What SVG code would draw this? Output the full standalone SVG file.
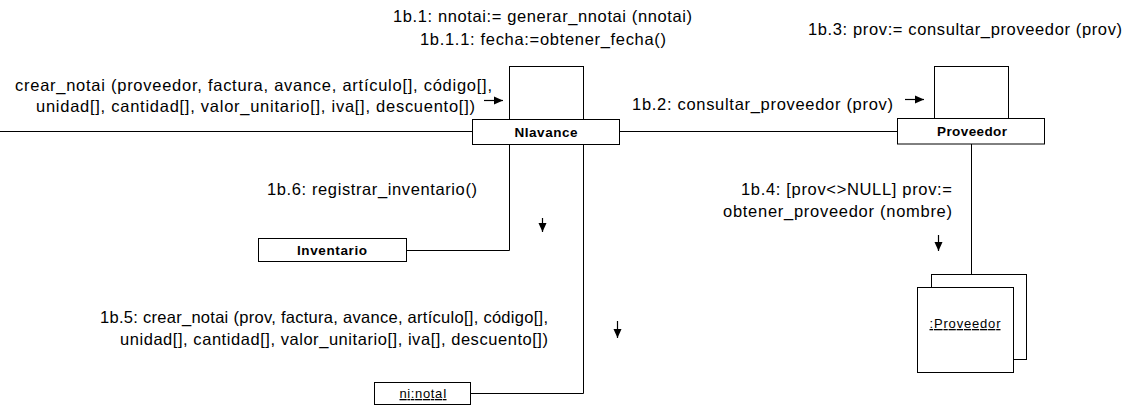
<svg xmlns="http://www.w3.org/2000/svg" width="1140" height="411" viewBox="0 0 1140 411">
  <style>
    .t { font-family: "Liberation Sans", Arial, sans-serif; font-size: 16.5px; fill: #000; }
    .lbl { font-family: "Liberation Sans", Arial, sans-serif; font-size: 13.5px; font-weight: bold; fill: #000; }
    .obj { font-family: "Liberation Sans", Arial, sans-serif; font-size: 13px; fill: #000; text-decoration: underline; }
    .box { fill: #fff; stroke: #000; stroke-width: 1; }
    .ln { fill: none; stroke: #000; stroke-width: 1; }
    .msg { fill: none; stroke: #000; stroke-width: 1.2; marker-end: url(#ah); }
  </style>
  <defs>
    <!-- solid triangular head for message direction arrows -->
    <marker id="ah" markerWidth="10" markerHeight="10" refX="9" refY="5" orient="auto" markerUnits="userSpaceOnUse">
      <path d="M0,1 L9,5 L0,9 z" fill="#000"/>
    </marker>
  </defs>

  <rect width="1140" height="411" fill="#fff"/>

  <!-- links between objects -->
  <g id="connectors">
    <path class="ln" d="M0,131.5 H472.5"/>
    <path class="ln" d="M619.5,131.5 H897.5"/>
    <path class="ln" d="M509.5,144.5 V250.5 H406.5"/>
    <path class="ln" d="M583.5,144.5 V393.5 H470.5"/>
    <path class="ln" d="M971.5,144 V274.5"/>

    <!-- message direction arrows -->
    <path class="msg" d="M484,100.5 H503"/>
    <path class="msg" d="M905,99.5 H924"/>
    <path class="msg" d="M542.5,218 V232"/>
    <path class="msg" d="M938.5,235 V251"/>
    <path class="msg" d="M617.5,321 V338"/>

    <!-- message labels -->
    <text class="t" x="393" y="22" textLength="299" lengthAdjust="spacing">1b.1: nnotai:= generar_nnotai (nnotai)</text>
    <text class="t" x="420" y="45" textLength="246" lengthAdjust="spacing">1b.1.1: fecha:=obtener_fecha()</text>
    <text class="t" x="808" y="35" textLength="314" lengthAdjust="spacing">1b.3: prov:= consultar_proveedor (prov)</text>
    <text class="t" x="15" y="91" textLength="477" lengthAdjust="spacing">crear_notai (proveedor, factura, avance, artículo[], código[],</text>
    <text class="t" x="36" y="112" textLength="439" lengthAdjust="spacing">unidad[], cantidad[], valor_unitario[], iva[], descuento[])</text>
    <text class="t" x="632" y="110" textLength="261" lengthAdjust="spacing">1b.2: consultar_proveedor (prov)</text>
    <text class="t" x="267" y="195" textLength="210" lengthAdjust="spacing">1b.6: registrar_inventario()</text>
    <text class="t" x="741" y="195" textLength="211" lengthAdjust="spacing">1b.4: [prov&lt;&gt;NULL] prov:=</text>
    <text class="t" x="723" y="217" textLength="229" lengthAdjust="spacing">obtener_proveedor (nombre)</text>
    <text class="t" x="100" y="323" textLength="448" lengthAdjust="spacing">1b.5: crear_notai (prov, factura, avance, artículo[], código[],</text>
    <text class="t" x="120" y="345" textLength="428" lengthAdjust="spacing">unidad[], cantidad[], valor_unitario[], iva[], descuento[])</text>
  </g>

  <g id="niavance">
    <rect class="box" x="509.5" y="66.5" width="74" height="53"/>
    <rect class="box" x="472.5" y="119.5" width="147" height="25"/>
    <text class="lbl" x="546" y="137" text-anchor="middle" textLength="63" lengthAdjust="spacing">NIavance</text>
  </g>

  <g id="proveedor">
    <rect class="box" x="934.5" y="66.5" width="74" height="52"/>
    <rect class="box" x="897.5" y="118.5" width="147" height="25.5"/>
    <text class="lbl" x="972" y="136" text-anchor="middle" textLength="70" lengthAdjust="spacing">Proveedor</text>
  </g>

  <g id="inventario">
    <rect class="box" x="258.5" y="238.5" width="148" height="23"/>
    <text class="lbl" x="332" y="255" text-anchor="middle" textLength="70" lengthAdjust="spacing">Inventario</text>
  </g>

  <g id="ni-notai">
    <rect class="box" x="374.5" y="382.5" width="96" height="22"/>
    <text class="obj" x="423" y="398" text-anchor="middle" textLength="47" lengthAdjust="spacing">ni:notaI</text>
  </g>

  <g id="proveedor-multi">
    <rect class="box" x="931.5" y="274.5" width="95" height="85"/>
    <rect class="box" x="917.5" y="287.5" width="96" height="85"/>
    <text class="obj" x="965" y="328" text-anchor="middle" textLength="71" lengthAdjust="spacing">:Proveedor</text>
  </g>
</svg>
